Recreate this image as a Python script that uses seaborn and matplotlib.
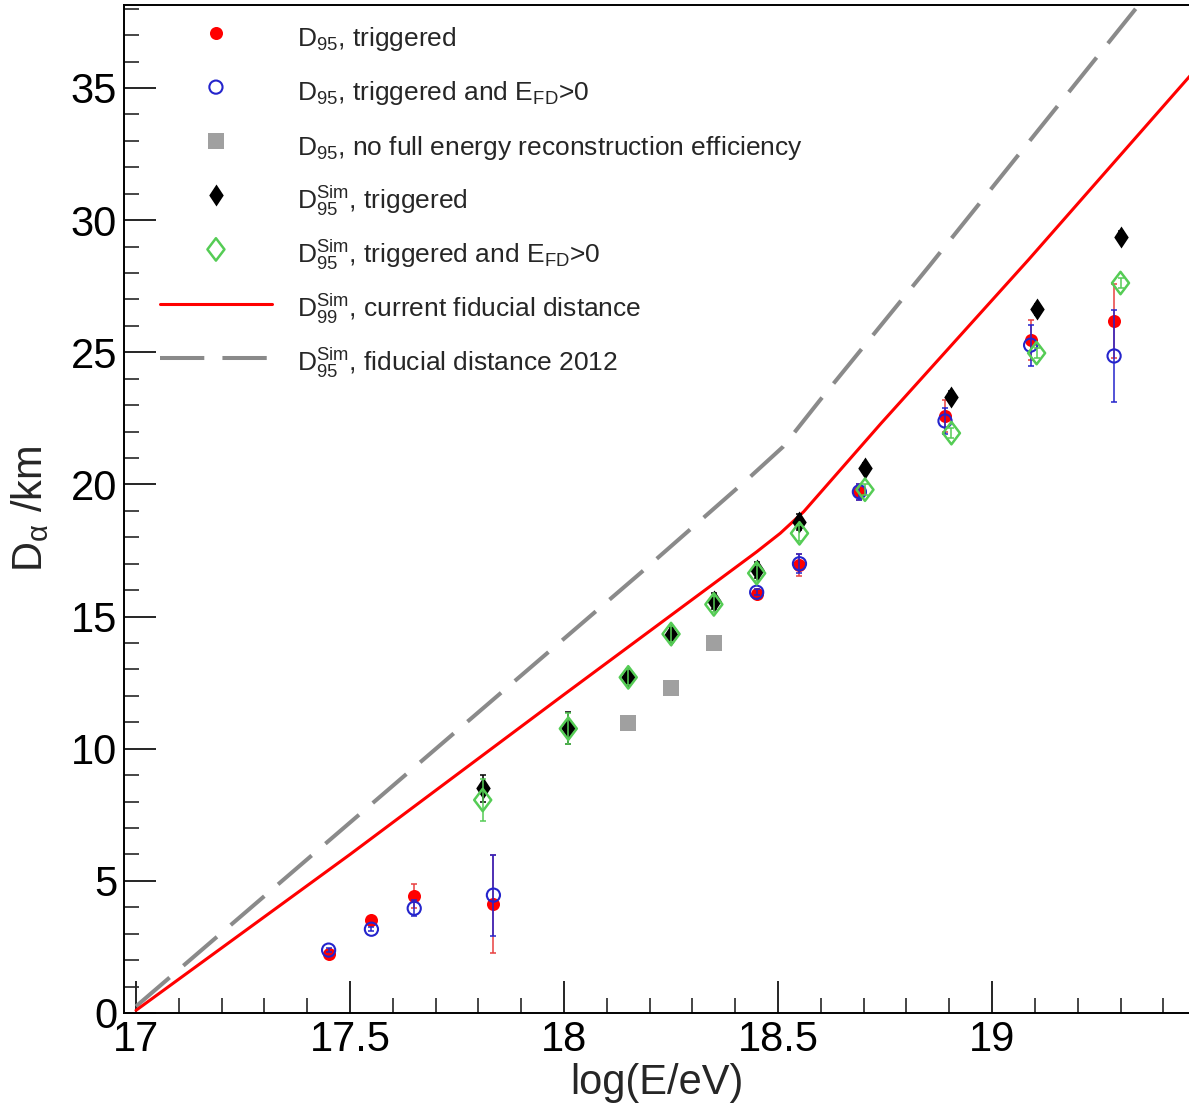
import matplotlib
matplotlib.use("Agg")
import matplotlib.pyplot as plt
import numpy as np
import seaborn as sns
from matplotlib.path import Path
from matplotlib.ticker import MultipleLocator, FuncFormatter

sns.set_style("ticks")
plt.rcParams["font.family"] = ["Liberation Sans", "DejaVu Sans"]
plt.rcParams["mathtext.fontset"] = "custom"
plt.rcParams["mathtext.rm"] = "Liberation Sans"
plt.rcParams["mathtext.it"] = "Liberation Sans:italic"
plt.rcParams["mathtext.bf"] = "Liberation Sans:bold"
plt.rcParams["mathtext.default"] = "regular"

# ---------------------------------------------------------------------------
# Data
# ---------------------------------------------------------------------------

# D95, triggered (red) and D95, triggered and E_FD>0 (blue)
x_trig = [17.45, 17.55, 17.65, 17.835, 18.45, 18.55, 18.69, 18.89, 19.09, 19.285]
y_trig = [2.23, 3.53, 4.42, 4.12, 15.86, 16.95, 19.70, 22.60, 25.46, 26.18]
e_trig = [0.08, 0.08, 0.46, 1.84, 0.12, 0.43, 0.3, 0.6, 0.75, 1.4]

y_efd = [2.38, 3.17, 3.96, 4.46, 15.92, 17.0, 19.72, 22.40, 25.27, 24.86]
e_efd = [0.08, 0.08, 0.3, 1.53, 0.12, 0.35, 0.3, 0.5, 0.78, 1.75]

# D95, no full energy reconstruction efficiency (gray squares)
x_nofull = [18.15, 18.25, 18.35]
y_nofull = [10.98, 12.30, 14.01]

# D95^Sim, triggered (black) and triggered and E_FD>0 (green)
x_sim = [17.81, 18.01, 18.15, 18.25, 18.35, 18.45, 18.55, 18.703, 18.905, 19.104, 19.30]
y_sim = [8.50, 10.78, 12.72, 14.32, 15.58, 16.76, 18.59, 20.62, 23.32, 26.62, 29.37]
e_sim = [0.5, 0.62, 0.3, 0.3, 0.3, 0.3, 0.3, 0.2, 0.2, 0.2, 0.2]

y_sim_efd = [8.06, 10.76, 12.70, 14.34, 15.46, 16.64, 18.15, 19.80, 21.94, 24.97, 27.62]
e_sim_efd = [0.8, 0.6, 0.3, 0.3, 0.3, 0.3, 0.3, 0.2, 0.2, 0.2, 0.2]

# D99^Sim current fiducial distance (red line)
x_fid = [17.0, 17.5, 18.0, 18.24, 18.45, 18.505, 18.56, 18.74, 19.085, 19.47]
y_fid = [0.1, 6.0, 12.05, 14.93, 17.45, 18.15, 18.97, 22.3, 28.5, 35.6]

# D95^Sim fiducial distance 2012 (gray dashed)
x_fid12 = [17.0, 18.178, 18.435, 18.512, 18.598, 18.855, 19.40]
y_fid12 = [0.25, 16.64, 20.29, 21.43, 23.19, 28.3, 39.3]

labels = [
    r"D$_{95}$, triggered",
    r"D$_{95}$, triggered and E$_{FD}$>0",
    r"D$_{95}$, no full energy reconstruction efficiency",
    r"D$_{95}^{Sim}$, triggered",
    r"D$_{95}^{Sim}$, triggered and E$_{FD}$>0",
    r"D$_{99}^{Sim}$, current fiducial distance",
    r"D$_{95}^{Sim}$, fiducial distance 2012",
]

RED = "#ff0000"
RED_ERR = "#e84040"
BLUE = "#2424cc"
GRAY = "#a0a0a0"
GREEN = "#55cc55"
LINE_GRAY = "#8a8a8a"


def diamond(ratio):
    return Path([(0, 1), (ratio, 0), (0, -1), (-ratio, 0), (0, 1)], closed=True)


fig = plt.figure(figsize=(11.89, 11.04), dpi=100)
ax = fig.add_axes([124 / 1189, 91 / 1104, 1065 / 1189, 1008 / 1104])

# lines
sns.lineplot(x=x_fid12, y=y_fid12, ax=ax, color=LINE_GRAY, linewidth=2.9,
             linestyle=(0, (11, 4.5)), estimator=None, sort=False, label=labels[6], zorder=2)
sns.lineplot(x=x_fid, y=y_fid, ax=ax, color=RED, linewidth=2.2,
             estimator=None, sort=False, label=labels[5], zorder=2)

# D95 triggered
ax.errorbar(x_trig, y_trig, yerr=e_trig, fmt="none", ecolor=RED_ERR,
            elinewidth=1.1, capsize=2.5, capthick=1.1, zorder=3)
sns.scatterplot(x=x_trig, y=y_trig, ax=ax, marker="o", s=88, color=RED,
                linewidth=0, label=labels[0], zorder=4)

# D95 triggered and E_FD>0
ax.errorbar(x_trig, y_efd, yerr=e_efd, fmt="none", ecolor=BLUE,
            elinewidth=1.1, capsize=2.5, capthick=1.1, zorder=5)
sns.scatterplot(x=x_trig, y=y_efd, ax=ax, marker="o", s=90, color=BLUE,
                facecolor="none", edgecolor=BLUE, linewidth=1.5,
                label=labels[1], zorder=6)

# gray squares
sns.scatterplot(x=x_nofull, y=y_nofull, ax=ax, marker="s", s=117, color=GRAY,
                linewidth=0, label=labels[2], zorder=6)

# D95^Sim triggered
ax.errorbar(x_sim, y_sim, yerr=e_sim, fmt="none", ecolor="black",
            elinewidth=1.1, capsize=2.5, capthick=1.1, zorder=7)
sns.scatterplot(x=x_sim, y=y_sim, ax=ax, marker=diamond(0.66), s=250,
                color="black", linewidth=0, label=labels[3], zorder=8)

# D95^Sim triggered and E_FD>0
ax.errorbar(x_sim, y_sim_efd, yerr=e_sim_efd, fmt="none", ecolor=GREEN,
            elinewidth=1.1, capsize=2.5, capthick=1.1, zorder=9)
sns.scatterplot(x=x_sim, y=y_sim_efd, ax=ax, marker=diamond(0.76), s=260,
                color=GREEN, facecolor="none", edgecolor=GREEN, linewidth=1.8,
                label=labels[4], zorder=10)

# axes
ax.set_xlim(16.972, 19.46)
ax.set_ylim(0, 38.14)
ax.xaxis.set_major_locator(MultipleLocator(0.5))
ax.xaxis.set_minor_locator(MultipleLocator(0.1))
ax.yaxis.set_major_locator(MultipleLocator(5))
ax.yaxis.set_minor_locator(MultipleLocator(1))
ax.xaxis.set_major_formatter(FuncFormatter(lambda v, p: f"{v:g}"))
ax.tick_params(which="major", direction="in", length=23, width=1.2,
               labelsize=30, pad=5, colors="black")
ax.tick_params(which="minor", direction="in", length=10.5, width=1.2)
ax.tick_params(top=False, right=False, which="both")
for side in ["left", "bottom", "top"]:
    ax.spines[side].set_linewidth(1.4)
    ax.spines[side].set_color("black")
ax.spines["right"].set_visible(False)

ax.set_xlabel("log(E/eV)", fontsize=30, labelpad=2)
ax.set_ylabel(r"D$_{\alpha}$ /km", fontsize=30, labelpad=14)

handles, labs = ax.get_legend_handles_labels()
order = [labs.index(l) for l in labels]
ax.legend([handles[i] for i in order], [labs[i] for i in order],
          loc="upper left", bbox_to_anchor=(160 / 1189, 1 - 20 / 1104),
          bbox_transform=fig.transFigure, frameon=False, fontsize=19,
          borderpad=0, borderaxespad=0, handlelength=4.24, handletextpad=0.95,
          handleheight=1.7, labelspacing=0.70, scatterpoints=1)

fig.savefig("out.png", dpi=100)
